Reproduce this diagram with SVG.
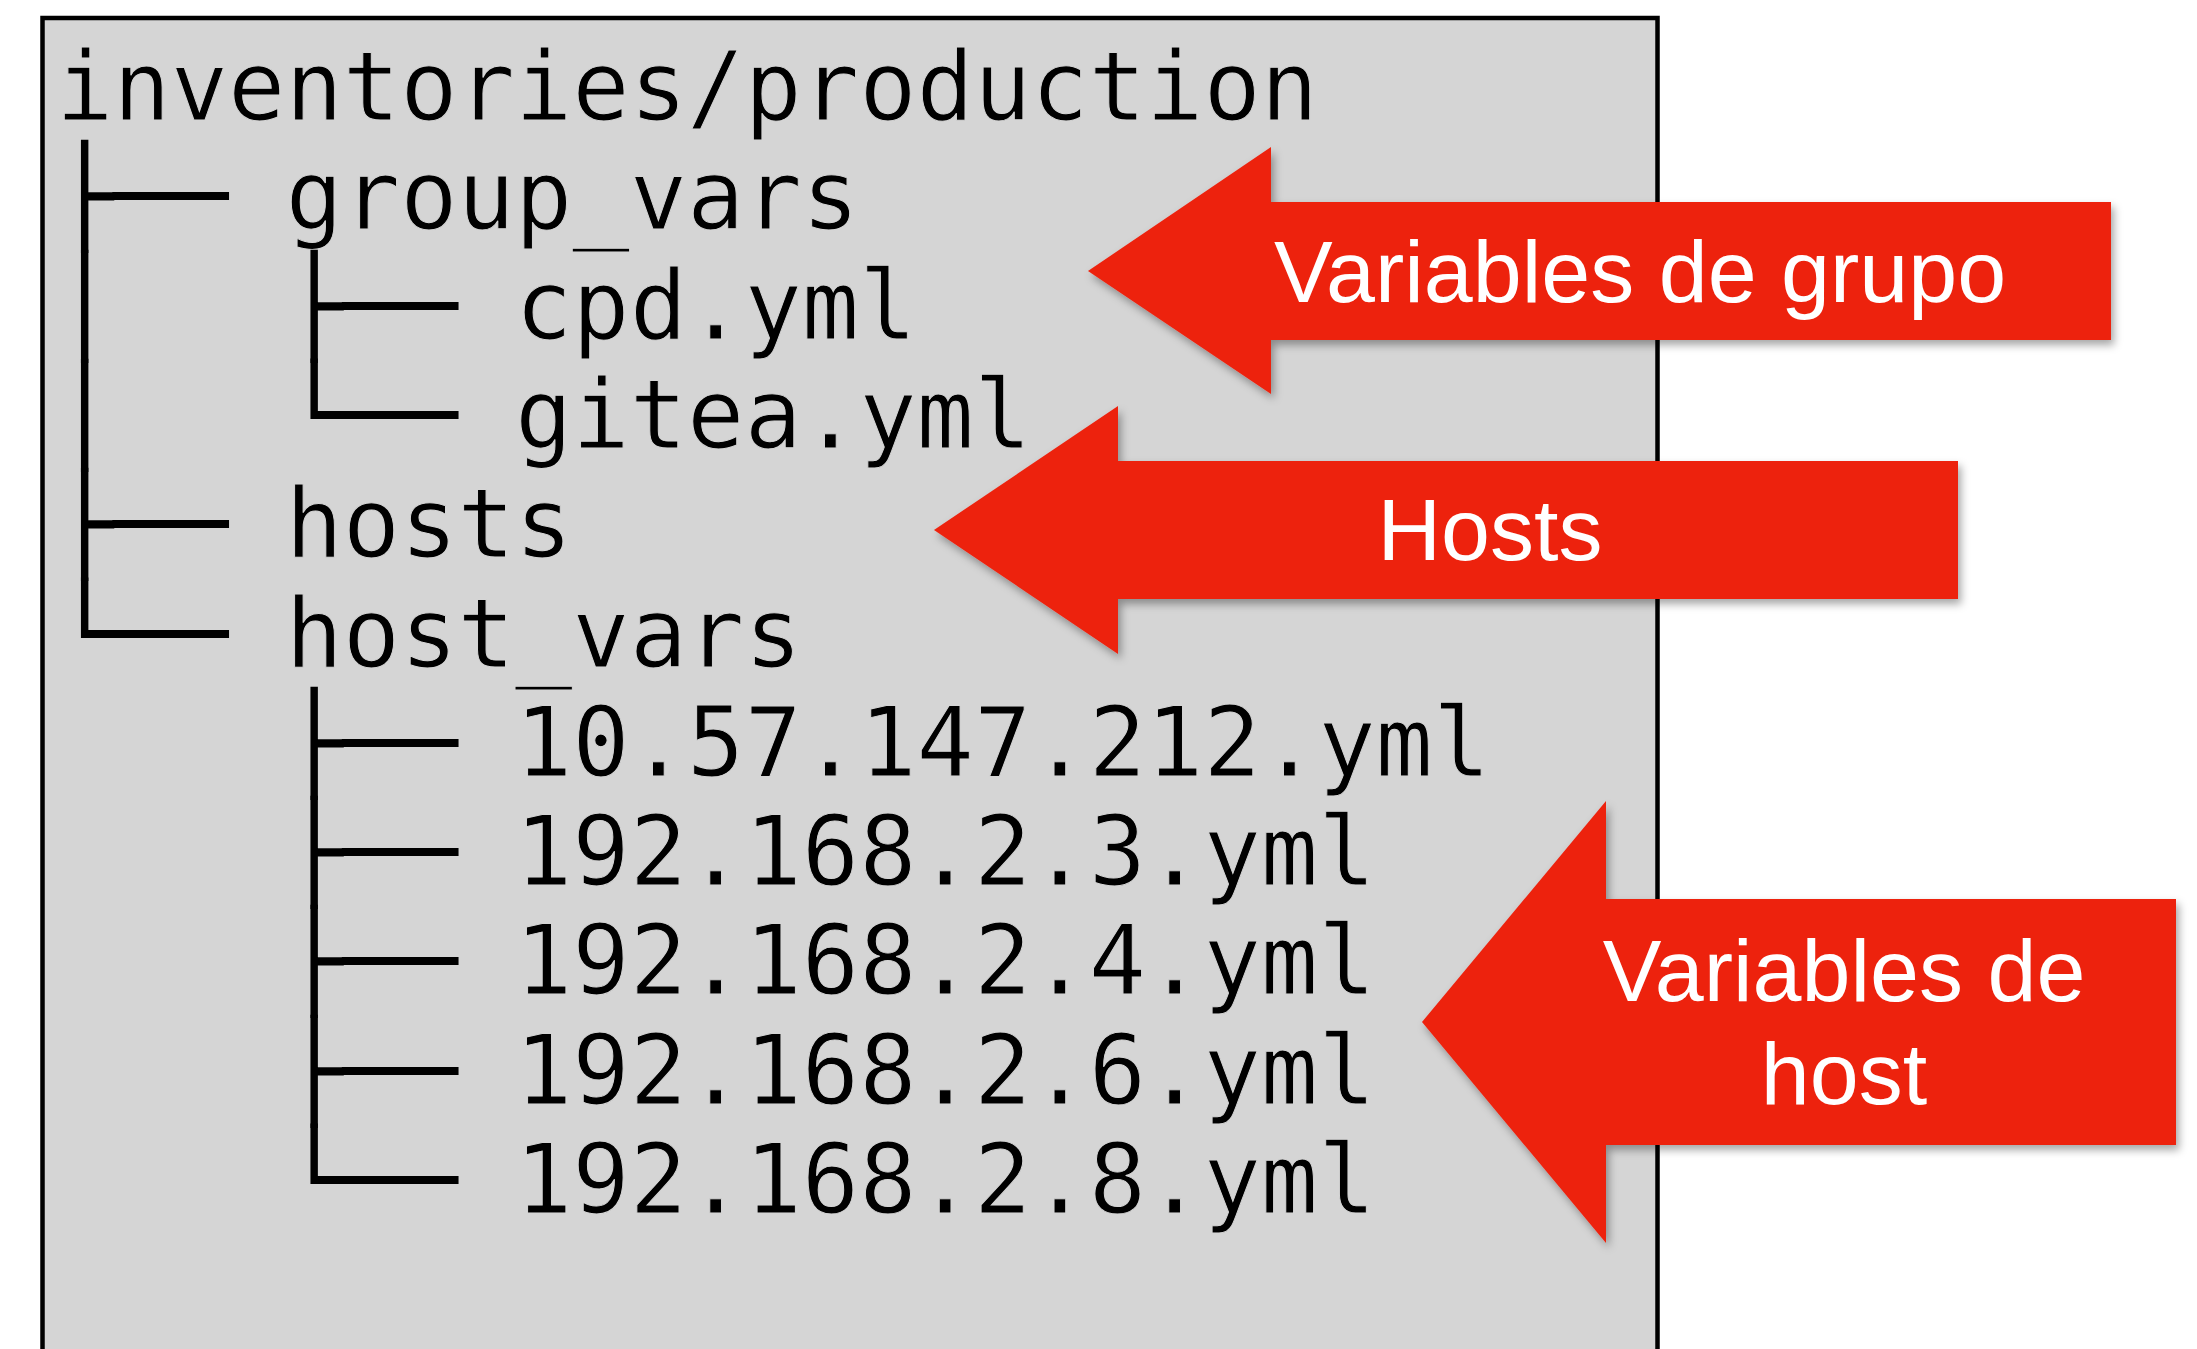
<svg xmlns="http://www.w3.org/2000/svg" width="2197" height="1349" viewBox="0 0 2197 1349">
  <defs>
    <style>
      .tree { font-family: "DejaVu Sans Mono", "Liberation Mono", monospace; font-size: 95.3px; fill: #000; white-space: pre; }
      .nm { stroke: #D5D5D5; stroke-width: 1px; }
      .lbl { font-family: "Liberation Sans", Arial, Helvetica, sans-serif; font-size: 88px; fill: #fff; text-anchor: middle; }
      .arrow { fill: #ED2210; filter: url(#shadow); }
    </style>
    <filter id="shadow" x="-10%" y="-20%" width="130%" height="150%">
      <feDropShadow dx="3" dy="5" stdDeviation="4" flood-color="#000" flood-opacity="0.35"/>
    </filter>
  </defs>
  <rect width="2197" height="1349" fill="#fff"/>
  <g id="tree">
    <rect x="42.5" y="18" width="1615" height="1400" fill="#D5D5D5" stroke="#000" stroke-width="4.5"/>
    <text class="tree" xml:space="preserve" x="56" y="120"><tspan class="nm">inventories/production</tspan></text>
    <text class="tree" xml:space="preserve" x="56" y="229.3">├── <tspan class="nm">group_vars</tspan></text>
    <text class="tree" xml:space="preserve" x="56" y="338.6">│   ├── <tspan class="nm">cpd.yml</tspan></text>
    <text class="tree" xml:space="preserve" x="56" y="447.9">│   └── <tspan class="nm">gitea.yml</tspan></text>
    <text class="tree" xml:space="preserve" x="56" y="557.2">├── <tspan class="nm">hosts</tspan></text>
    <text class="tree" xml:space="preserve" x="56" y="666.5">└── <tspan class="nm">host_vars</tspan></text>
    <text class="tree" xml:space="preserve" x="56" y="775.8">    ├── <tspan class="nm">10.57.147.212.yml</tspan></text>
    <text class="tree" xml:space="preserve" x="56" y="885.1">    ├── <tspan class="nm">192.168.2.3.yml</tspan></text>
    <text class="tree" xml:space="preserve" x="56" y="994.4">    ├── <tspan class="nm">192.168.2.4.yml</tspan></text>
    <text class="tree" xml:space="preserve" x="56" y="1103.7">    ├── <tspan class="nm">192.168.2.6.yml</tspan></text>
    <text class="tree" xml:space="preserve" x="56" y="1213">    └── <tspan class="nm">192.168.2.8.yml</tspan></text>
  </g>
  <g id="connectors">
    <g id="arrow-group-vars">
      <polygon class="arrow" points="1088,271 1271,147 1271,202 2111,202 2111,340 1271,340 1271,394"/>
      <text class="lbl" x="1640" y="302">Variables de grupo</text>
    </g>
    <g id="arrow-hosts">
      <polygon class="arrow" points="934,530 1118,406 1118,461 1958,461 1958,599 1118,599 1118,654"/>
      <text class="lbl" x="1490" y="560">Hosts</text>
    </g>
    <g id="arrow-host-vars">
      <polygon class="arrow" points="1422,1022 1606,801 1606,899 2176,899 2176,1145 1606,1145 1606,1243"/>
      <text class="lbl" x="1844" y="1001">Variables de</text>
      <text class="lbl" x="1844" y="1104">host</text>
    </g>
  </g>
</svg>
